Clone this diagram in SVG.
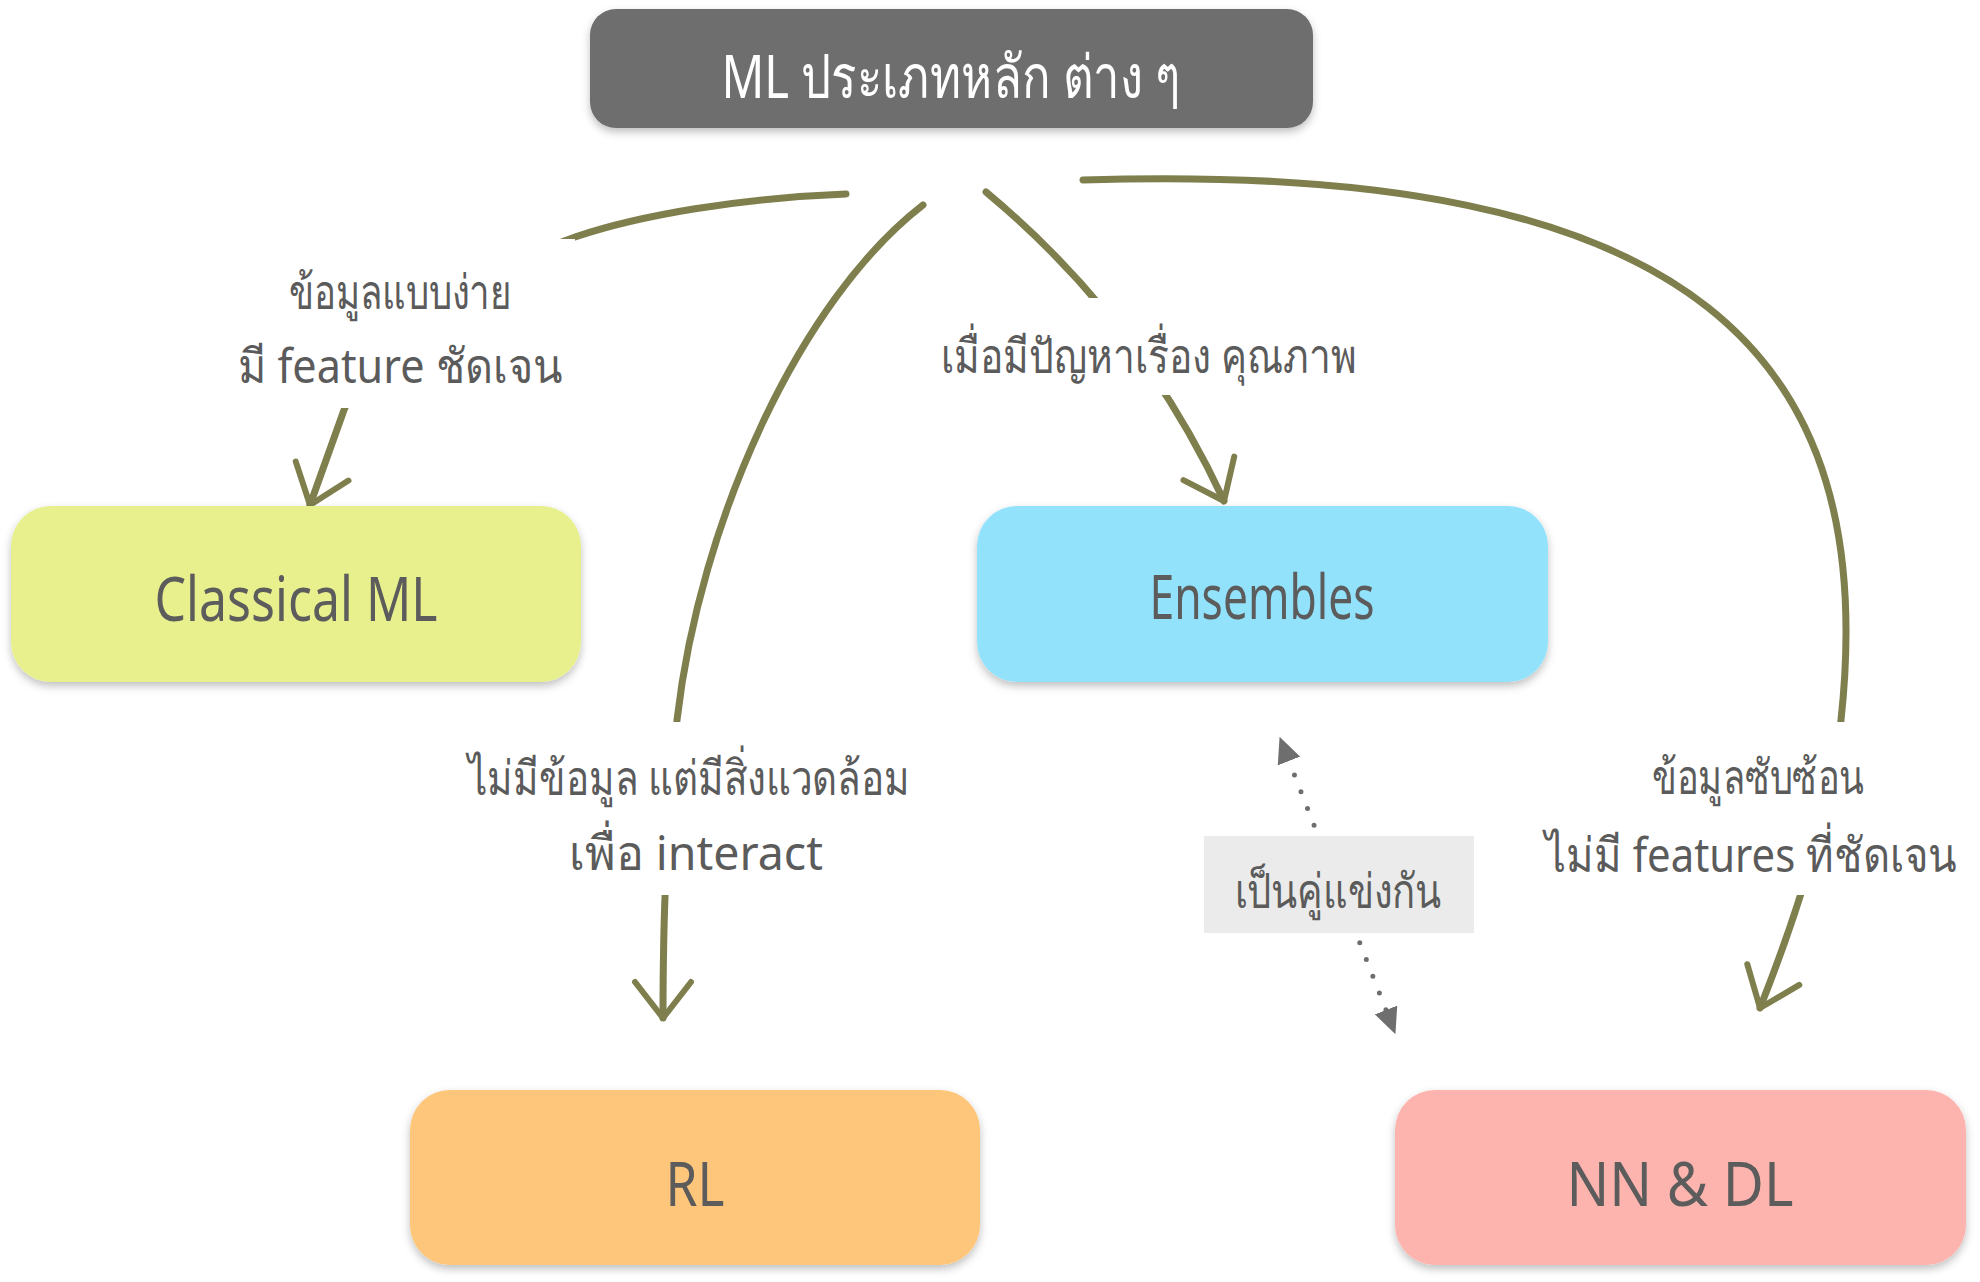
<svg xmlns="http://www.w3.org/2000/svg" width="1980" height="1282" viewBox="0 0 1980 1282">
<defs>
<style>
.node-text{font-family:"Noto Sans","DejaVu Sans",sans-serif;fill:#5b5b5b;font-size:62px;text-anchor:middle}
.top-text{font-family:"Noto Sans","DejaVu Sans",sans-serif;fill:#ffffff;font-size:60px;text-anchor:middle}
.lbl{font-family:"Noto Sans","DejaVu Sans",sans-serif;fill:#5b5b5b;font-size:48px;text-anchor:middle}
.brush{fill:none;stroke:#7e7f4d;stroke-width:7;stroke-linecap:round;stroke-linejoin:round}
.dots{fill:none;stroke:#6e6e6e;stroke-width:5;stroke-linecap:round;stroke-dasharray:0 18;stroke-dashoffset:3}
.mask{fill:#ffffff}
</style>
<filter id="shadow" x="-10%" y="-20%" width="120%" height="150%">
<feDropShadow dx="0" dy="4" stdDeviation="4" flood-color="#000000" flood-opacity="0.25"/>
</filter>
<marker id="vArrow" markerUnits="userSpaceOnUse" viewBox="-44 -34 50 68" markerWidth="50" markerHeight="68" refX="0" refY="0" orient="auto" overflow="visible">
<path d="M -36 -28 L 0 0 L -36 28" fill="none" stroke="#7e7f4d" stroke-width="6" stroke-linecap="round" stroke-linejoin="round"/>
</marker>
<marker id="tri" markerUnits="userSpaceOnUse" viewBox="0 0 26 24" markerWidth="26" markerHeight="24" refX="0" refY="12" orient="auto-start-reverse">
<path d="M0 0 L26 12 L0 24 z" fill="#6e6e6e"/>
</marker>
</defs>
<rect width="1980" height="1282" fill="#ffffff"/>

<g id="connectors">
<path class="brush" d="M 846 194 C 740 198, 640 215, 575 237 C 470 275, 380 320, 344 410 L 310 505" marker-end="url(#vArrow)"/>
<path class="brush" d="M 923 205 C 800 300, 700 520, 677 720 C 672 800, 663 850, 663 1018" marker-end="url(#vArrow)"/>
<path class="brush" d="M 986 192 Q 1140 320 1224 501" marker-end="url(#vArrow)"/>
<path class="brush" d="M 1083 180 C 1700 160, 1880 360, 1841 720 C 1834 800, 1795 920, 1760 1008" marker-end="url(#vArrow)"/>
<path class="dots" d="M 1289 761 L 1386 1010" marker-start="url(#tri)" marker-end="url(#tri)"/>

<g id="label-classical">
<rect class="mask" x="220" y="239" width="355" height="169"/>
<text class="lbl" x="400" y="309" textLength="223" lengthAdjust="spacingAndGlyphs">ข้อมูลแบบง่าย</text>
<text class="lbl" x="400" y="383" textLength="325" lengthAdjust="spacingAndGlyphs">มี feature ชัดเจน</text>
</g>
<g id="label-rl">
<rect class="mask" x="455" y="722" width="470" height="173"/>
<text class="lbl" x="689" y="795" textLength="442" lengthAdjust="spacingAndGlyphs">ไม่มีข้อมูล แต่มีสิ่งแวดล้อม</text>
<text class="lbl" x="696" y="870" textLength="254" lengthAdjust="spacingAndGlyphs">เพื่อ interact</text>
</g>
<g id="label-ensembles">
<rect class="mask" x="930" y="298" width="440" height="97"/>
<text class="lbl" x="1149" y="373" textLength="416" lengthAdjust="spacingAndGlyphs">เมื่อมีปัญหาเรื่อง คุณภาพ</text>
</g>
<g id="label-nn">
<rect class="mask" x="1535" y="722" width="443" height="173"/>
<text class="lbl" x="1758" y="794" textLength="213" lengthAdjust="spacingAndGlyphs">ข้อมูลซับซ้อน</text>
<text class="lbl" x="1751" y="872" textLength="412" lengthAdjust="spacingAndGlyphs">ไม่มี features ที่ชัดเจน</text>
</g>
<g id="label-rival">
<rect x="1204" y="836" width="270" height="97" fill="#ebebeb"/>
<text class="lbl" x="1338" y="908" textLength="207" lengthAdjust="spacingAndGlyphs">เป็นคู่แข่งกัน</text>
</g>
</g>

<g id="node-top" filter="url(#shadow)">
<rect x="590" y="9" width="723" height="119" rx="26" fill="#6e6e6e"/>
<text class="top-text" x="951" y="98" textLength="459" lengthAdjust="spacingAndGlyphs">ML ประเภทหลัก ต่าง ๆ</text>
</g>
<g id="node-classical" filter="url(#shadow)">
<rect x="11" y="506" width="570" height="176" rx="40" fill="#e8f08e"/>
<text class="node-text" x="296" y="621" textLength="283" lengthAdjust="spacingAndGlyphs">Classical ML</text>
</g>
<g id="node-ensembles" filter="url(#shadow)">
<rect x="977" y="506" width="571" height="176" rx="40" fill="#93e2fb"/>
<text class="node-text" x="1262" y="619" textLength="225" lengthAdjust="spacingAndGlyphs">Ensembles</text>
</g>
<g id="node-rl" filter="url(#shadow)">
<rect x="410" y="1090" width="570" height="175" rx="40" fill="#fec67a"/>
<text class="node-text" x="695" y="1206" textLength="59" lengthAdjust="spacingAndGlyphs">RL</text>
</g>
<g id="node-nn" filter="url(#shadow)">
<rect x="1395" y="1090" width="571" height="175" rx="40" fill="#fdb4ae"/>
<text class="node-text" x="1680" y="1206" textLength="227" lengthAdjust="spacingAndGlyphs">NN &amp; DL</text>
</g>
</svg>
